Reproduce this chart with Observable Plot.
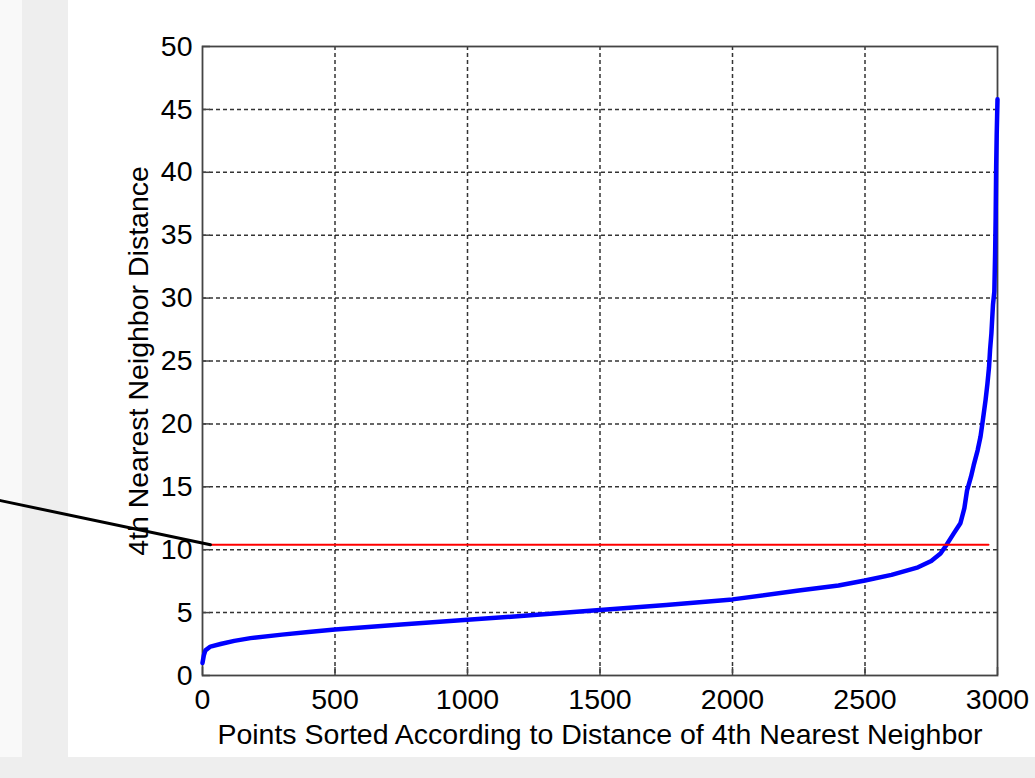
<!DOCTYPE html>
<html><head><meta charset="utf-8">
<script src="https://cdn.jsdelivr.net/npm/d3@7"></script>
<script src="https://cdn.jsdelivr.net/npm/@observablehq/plot@0.6"></script>
<style>
html,body{margin:0;padding:0;}
body{width:1035px;height:778px;background:#eeeeee;position:relative;overflow:hidden;font-family:"Liberation Sans",Arial,sans-serif;}
#strip{position:absolute;left:0;top:0;width:22px;height:757px;background:#f9f9f9;}
#panel{position:absolute;left:68px;top:0;width:967px;height:757px;background:#ffffff;}
#chart{position:absolute;left:0;top:0;}
</style></head><body>
<div id="strip"></div><div id="panel"></div><div id="chart"></div>
<script>
// Sorted point index vs. 4th nearest neighbor distance
const pointRank  = [0, 5, 11, 30, 68, 120, 181, 300, 400, 500, 750, 1000, 1250, 1500, 1750, 2000, 2250, 2400, 2500, 2600, 2700, 2750, 2785, 2808, 2835, 2860, 2875, 2885, 2900, 2910, 2925, 2936, 2946, 2955, 2962, 2968, 2972, 2977, 2983, 2988, 2991, 2993, 2995, 2997, 3000];
const nnDistance = [1.0, 1.6, 2.0, 2.3, 2.5, 2.75, 2.97, 3.25, 3.45, 3.65, 4.05, 4.43, 4.8, 5.2, 5.6, 6.05, 6.75, 7.15, 7.55, 8.0, 8.6, 9.1, 9.7, 10.4, 11.3, 12.1, 13.3, 14.7, 15.8, 16.7, 17.9, 19.0, 20.5, 21.9, 23.2, 24.5, 25.9, 27.2, 29.5, 30.5, 33.5, 36.4, 40.5, 43.0, 45.8];

// Threshold (red) line
const thresholdX = [30, 2966];
const thresholdY = [10.4, 10.4];

// Black pointer line coming from the left
const pointerX = [-762, 30];
const pointerY = [13.9, 10.4];

// Axis ticks
const xTicks = [0, 500, 1000, 1500, 2000, 2500, 3000];
const yTicks = [0, 5, 10, 15, 20, 25, 30, 35, 40, 45, 50];
const xLabel = "Points Sorted According to Distance of 4th Nearest Neighbor";
const yLabel = "4th Nearest Neighbor Distance";

const curve = pointRank.map((x, i) => ({x, y: nnDistance[i]}));
const threshold = thresholdX.map((x, i) => ({x, y: thresholdY[i]}));
const pointer = pointerX.map((x, i) => ({x, y: pointerY[i]}));
const gridX = xTicks.slice(1, -1);
const gridY = yTicks.slice(1, -1);
const plain = d => String(d);

const chart = Plot.plot({
  width: 1035,
  height: 778,
  marginLeft: 202,
  marginRight: 38,
  marginTop: 46,
  marginBottom: 103,
  style: {background: "transparent", fontFamily: "'Liberation Sans', Arial, sans-serif", color: "#000"},
  x: {domain: [0, 3000]},
  y: {domain: [0, 50]},
  marks: [
    Plot.gridX(gridX, {stroke: "#111", strokeOpacity: 0.85, strokeWidth: 1.5, strokeDasharray: "4,3"}),
    Plot.gridY(gridY, {stroke: "#111", strokeOpacity: 0.85, strokeWidth: 1.5, strokeDasharray: "4,3"}),
    Plot.frame({stroke: "#444", strokeWidth: 1.8}),
    Plot.axisX(xTicks, {tickSize: -8, tickFormat: () => "", label: null, stroke: "#444", strokeWidth: 1.5}),
    Plot.axisY(yTicks, {tickSize: -8, tickFormat: () => "", label: null, stroke: "#444", strokeWidth: 1.5}),
    Plot.axisX(xTicks, {tickSize: 0, tickPadding: 13, fontSize: 28.5, tickFormat: plain, label: xLabel, labelAnchor: "center", labelArrow: "none", labelOffset: 68}),
    Plot.axisY(yTicks, {tickSize: 0, tickPadding: 10, fontSize: 28.5, tickFormat: plain, label: yLabel, labelAnchor: "center", labelArrow: "none", labelOffset: 75}),
    Plot.line(curve, {x: "x", y: "y", stroke: "#0000ff", strokeWidth: 4.5, strokeLinejoin: "round"}),
    Plot.line(threshold, {x: "x", y: "y", stroke: "#ff0000", strokeWidth: 2}),
    Plot.line(pointer, {x: "x", y: "y", stroke: "#000", strokeWidth: 3, clip: false})
  ]
});
document.getElementById("chart").appendChild(chart);
</script>
</body></html>
